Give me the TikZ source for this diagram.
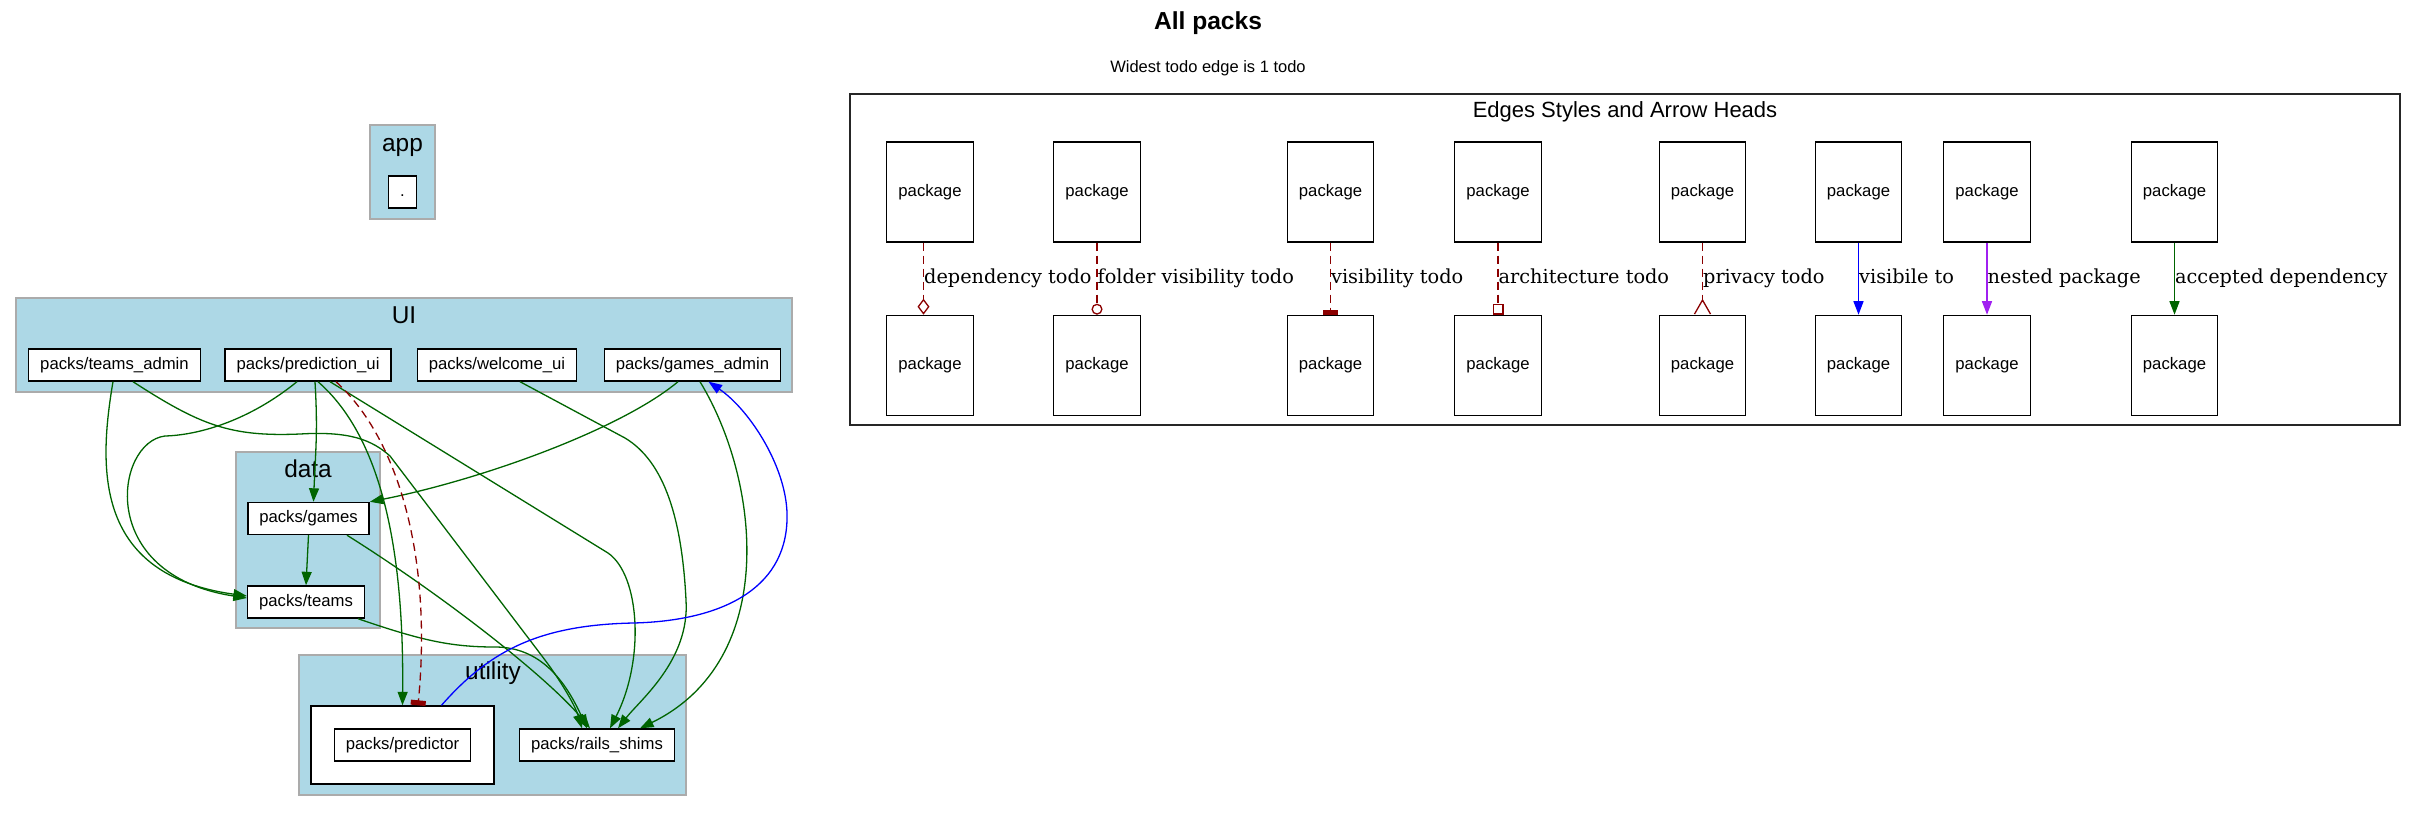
\documentclass[tikz,border=0pt]{standalone}
\usepackage{fontspec}
\setmainfont{Liberation Sans}
\newfontfamily\edgefont{DejaVu Serif}
\usetikzlibrary{arrows.meta, positioning}
\definecolor{clusterfill}{HTML}{ADD8E6}
\definecolor{clusterline}{HTML}{ABABAB}
\definecolor{acceptedgreen}{HTML}{006400}
\definecolor{todored}{HTML}{8B0000}
\definecolor{visibleblue}{HTML}{0000FF}
\definecolor{nestedpurple}{HTML}{A020F0}

\begin{document}
\begin{tikzpicture}[
    x=1pt, y=-1pt,
    node distance=72pt,
    packnode/.style={
        draw,
        line width=1.4pt,
        fill=white,
        inner xsep=11.5pt,
        minimum height=32pt,
        text height=12pt,
        text depth=3.5pt,
        font=\fontsize{16.7pt}{20pt}\selectfont
    },
    legendnode/.style={
        packnode,
        minimum width=86.5pt,
        minimum height=100pt
    },
    clusterbox/.style={
        draw=clusterline,
        fill=clusterfill,
        line width=1.6pt
    },
    clustertitle/.style={
        anchor=base,
        inner sep=0pt,
        font=\fontsize{24.4pt}{28pt}\selectfont
    },
    acceptedlink/.style={
        -{Triangle[length=13.5pt, width=10pt]},
        line width=1.3pt,
        acceptedgreen
    },
    visiblelink/.style={
        -{Triangle[length=13.5pt, width=10pt]},
        line width=1.3pt,
        visibleblue
    },
    nestedlink/.style={
        -{Triangle[length=13.5pt, width=10pt]},
        line width=1.3pt,
        nestedpurple
    },
    todolink/.style={
        line width=1.3pt,
        todored,
        dash pattern=on 8pt off 5pt
    },
    edgelabel/.style={
        anchor=west,
        inner sep=0pt,
        text=black,
        text height=15pt,
        text depth=4.6pt,
        font=\edgefont\fontsize{19.3pt}{22pt}\selectfont
    }
]
    \fill[white] (0,0) rectangle (2417,812);
    \useasboundingbox (0,0) rectangle (2417,812);

    % title
    \node[anchor=base, font=\bfseries\fontsize{24.6pt}{28pt}\selectfont] (title) at (1208,29) {All packs};
    \node[anchor=base, font=\fontsize{16.5pt}{20pt}\selectfont] (subtitle) at (1208,72.5) {Widest todo edge is 1 todo};

    % clusters
    \node[clusterbox, minimum width=65pt, minimum height=94pt] (appgroup) at (402.5,172) {};
    \node[clusterbox, minimum width=776pt, minimum height=94pt] (uigroup) at (404,345) {};
    \node[clusterbox, minimum width=144pt, minimum height=176pt] (datagroup) at (308,540) {};
    \node[clusterbox, minimum width=387pt, minimum height=140pt] (utilitygroup) at (492.5,725) {};
    \node[clustertitle] at (402.5,151) {app};
    \node[clustertitle] at (404,323) {UI};
    \node[clustertitle] at (308,477) {data};
    \node[clustertitle] at (493,679) {utility};

    % packages
    \node[packnode] (root) at (402.5,192) {.};
    \node[packnode] (teamsadmin) at (114.5,365) {packs/teams\_admin};
    \node[packnode] (predictionui) at (308,365) {packs/prediction\_ui};
    \node[packnode] (welcomeui) at (497,365) {packs/welcome\_ui};
    \node[packnode] (gamesadmin) at (692.5,365) {packs/games\_admin};
    \node[packnode] (games) at (308.5,518.5) {packs/games};
    \node[packnode] (teams) at (306,602) {packs/teams};
    \node[packnode, minimum width=183pt, minimum height=78pt] (predictorbox) at (402.5,745) {};
    \node[packnode] (predictor) at (402.5,745) {packs/predictor};
    \node[packnode] (railsshims) at (597,745) {packs/rails\_shims};

    % dependencies
    \draw[acceptedlink] ([xshift=-1.5pt]teamsadmin.south) .. controls (98,470) and (95,575) .. ([yshift=6pt]teams.west);
    \draw[acceptedlink] ([xshift=18.5pt]teamsadmin.south) .. controls (200,425) and (230,437) .. (300,434)
        .. controls (350,431) and (372,440) .. (390,456) -- (545,660)
        .. controls (560,680) and (575,705) .. ([xshift=-15pt]railsshims.north);
    \draw[acceptedlink] ([xshift=-11pt]predictionui.south) .. controls (250,420) and (200,435) .. (165,436)
        .. controls (115,442) and (95,575) .. ([yshift=4pt]teams.west);
    \draw[acceptedlink] ([xshift=7pt]predictionui.south) .. controls +(3,50) and +(2,-50) .. ([xshift=5pt]games.north);
    \draw[acceptedlink] ([xshift=10pt]predictionui.south) .. controls (385,440) and (404,560) .. (predictorbox.north);
    \draw[acceptedlink] ([xshift=22pt]predictionui.south) -- (608,553)
        .. controls (640,575) and (645,660) .. ([xshift=13pt]railsshims.north);
    \draw[acceptedlink] ([xshift=23pt]welcomeui.south) -- (625,438) .. controls (665,462) and (682,520) .. (686,600)
        .. controls (690,660) and (640,700) .. ([xshift=21pt]railsshims.north);
    \draw[acceptedlink] ([xshift=-14.5pt]gamesadmin.south) .. controls (620,430) and (480,480) .. (games.north east);
    \draw[acceptedlink] ([xshift=7.5pt]gamesadmin.south) .. controls (760,480) and (780,660) .. ([xshift=43pt]railsshims.north);
    \draw[acceptedlink] (games.south) -- (teams.north);
    \draw[acceptedlink] ([xshift=38.5pt]games.south) .. controls (450,600) and (550,680) .. ([xshift=-7pt]railsshims.north);
    \draw[acceptedlink] ([xshift=52pt]teams.south) .. controls (420,640) and (450,647) .. (495,647)
        .. controls (540,647) and (565,680) .. ([xshift=-10pt]railsshims.north);
    \draw[todolink, -{Rectangle[length=5pt, width=15pt]}] ([xshift=28pt]predictionui.south) .. controls (400,440) and (432,560) .. ([xshift=15.5pt]predictorbox.north);
    \draw[visiblelink] ([xshift=39pt]predictorbox.north) .. controls (490,650) and (540,625) .. (633,623)
        .. controls (720,621) and (785,590) .. (787,520)
        .. controls (789,470) and (750,410) .. ([xshift=16pt]gamesadmin.south);

    % legend
    \node[draw=black!85, line width=1.4pt, minimum width=1550pt, minimum height=331pt] (legend) at (1625,259.5) {};
    \node[anchor=base, inner sep=0pt, font=\fontsize{22pt}{26pt}\selectfont] (legendtitle) at (1625,117) {Edges Styles and Arrow Heads};

    \node[legendnode] (s1) at (930,192) {package};
    \node[legendnode] (s2) at (1097,192) {package};
    \node[legendnode] (s3) at (1330.5,192) {package};
    \node[legendnode] (s4) at (1498,192) {package};
    \node[legendnode] (s5) at (1702.5,192) {package};
    \node[legendnode] (s6) at (1858.5,192) {package};
    \node[legendnode] (s7) at (1987,192) {package};
    \node[legendnode] (s8) at (2174.5,192) {package};
    \node[legendnode, below=of s1] (t1) {package};
    \node[legendnode, below=of s2] (t2) {package};
    \node[legendnode, below=of s3] (t3) {package};
    \node[legendnode, below=of s4] (t4) {package};
    \node[legendnode, below=of s5] (t5) {package};
    \node[legendnode, below=of s6] (t6) {package};
    \node[legendnode, below=of s7] (t7) {package};
    \node[legendnode, below=of s8] (t8) {package};

    \draw[todolink, -{Diamond[open, length=16pt, width=12pt]}] ([xshift=-6.5pt]s1.south) -- ([xshift=-6.5pt]t1.north) node[edgelabel, midway] {dependency todo};
    \draw[todolink, -{Circle[open, length=11pt]}] (s2) -- (t2) node[edgelabel, midway] {folder visibility todo};
    \draw[todolink, -{Rectangle[length=5pt, width=15pt]}] (s3) -- (t3) node[edgelabel, midway] {visibility todo};
    \draw[todolink, -{Square[open, length=11pt]}] (s4) -- (t4) node[edgelabel, midway] {architecture todo};
    \draw[todolink, -{Straight Barb[reversed, length=14pt, width=16pt]}] (s5) -- (t5) node[edgelabel, midway] {privacy todo};
    \draw[visiblelink] (s6) -- (t6) node[edgelabel, midway] {visibile to};
    \draw[nestedlink] (s7) -- (t7) node[edgelabel, midway] {nested package};
    \draw[acceptedlink] (s8) -- (t8) node[edgelabel, midway] {accepted dependency};
\end{tikzpicture}
\end{document}
